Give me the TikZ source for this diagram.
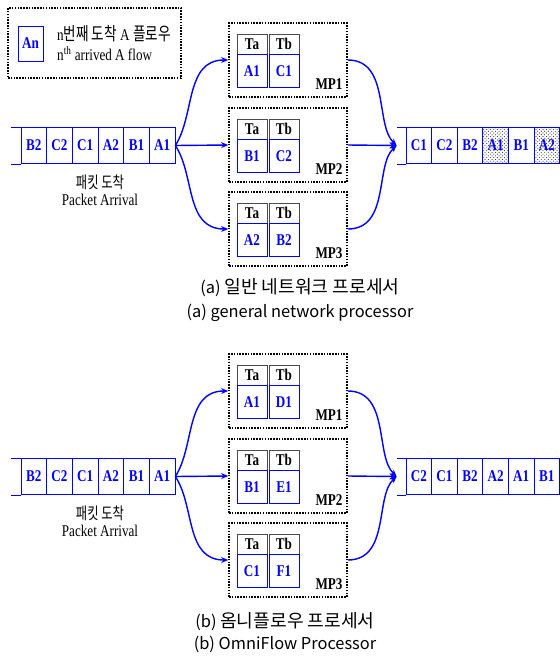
\documentclass[tikz,border=0pt]{standalone}
\usepackage{fontspec}
\setmainfont{Liberation Serif}
\newfontfamily\narrowserif[FakeStretch=0.8]{Liberation Serif}
\newfontfamily\narrowkr[FakeStretch=0.75]{Noto Sans CJK KR}
\newfontfamily\capkr{Noto Sans CJK KR}
\usetikzlibrary{positioning, arrows.meta, patterns}

\tikzset{
    qcell/.style={draw=blue, line width=0.6pt, minimum width=25.6*0.3mm, minimum height=36*0.3mm,
        inner sep=0pt, text=blue, font=\narrowserif\fontsize{14}{14}\selectfont\bfseries},
    hcell/.style={qcell, pattern=crosshatch dots, pattern color=black!80},
    thead/.style={draw=black!70, line width=0.6pt, minimum width=30*0.3mm, minimum height=20*0.3mm,
        inner sep=0pt, text=black, font=\narrowserif\fontsize{14}{14}\selectfont\bfseries},
    tdata/.style={thead, draw=blue, text=blue, minimum height=33*0.3mm},
    mpbox/.style={draw, line width=1.3pt, dash pattern=on 1.3pt off 1.1pt,
        minimum width=118*0.3mm, minimum height=74*0.3mm},
    mplabel/.style={inner sep=0pt, font=\narrowserif\fontsize{14}{14}\selectfont\bfseries},
    flow/.style={blue, line width=1.2pt, -{Stealth[length=6pt, width=5pt]}},
    stub/.style={blue, line width=0.6pt},
    capline/.style={font=\capkr\fontsize{14}{14}\selectfont}
}
\newcommand{\bigkr}[1]{{\fontsize{15.5}{15.5}\selectfont #1}}

\begin{document}
\begin{tikzpicture}[x=0.3mm, y=0.3mm]
    \useasboundingbox (0,0) rectangle (559,-662);

    % legend
    \node[mpbox, minimum width=173*0.3mm, minimum height=70*0.3mm] (legend) at (94.5,-43) {};
    \node[qcell, minimum width=25*0.3mm, minimum height=35*0.3mm] (an) at (30.5,-43.5) {An};
    \node[anchor=west, align=left, inner sep=0pt, font=\narrowserif\fontsize{14}{17}\selectfont] (legtext) at (57,-43)
        {n{\narrowkr\fontsize{15.5}{17}\selectfont 번째 도착} A {\narrowkr\fontsize{15.5}{17}\selectfont 플로우}\\n\textsuperscript{th} arrived A flow};

    % ---------------- (a) general network processor ----------------
    \foreach \lab [count=\i] in {B2,C2,C1,A2,B1,A1}
        \node[qcell] (ina-\i) at ({21+25.67*(\i-0.5)},-145.5) {\lab};
    \draw[stub] (ina-1.north west) -- ++(-10,0);
    \draw[stub] (ina-1.south west) -- ++(-10,0);
    \node[font=\narrowkr\fontsize{14}{14}\selectfont] (arra) at (100,-182) {패킷 도착};
    \node[font=\narrowserif\fontsize{14}{14}\selectfont] (arra-en) at (100,-200) {Packet Arrival};

    \foreach \n/\y/\ta/\tb in {1/60/A1/C1, 2/145/B1/C2, 3/229/A2/B2} {
        \node[mpbox] (mpa\n) at (288,-\y) {};
        \node[thead] (mpa\n-ha) at (252,-\y+16) {Ta};
        \node[thead] (mpa\n-hb) at (284,-\y+16) {Tb};
        \node[tdata, below=0pt of mpa\n-ha] (mpa\n-da) {\ta};
        \node[tdata, below=0pt of mpa\n-hb] (mpa\n-db) {\tb};
        \node[mplabel, above left=8*0.3mm and 5*0.3mm of mpa\n.south east, anchor=south east] {MP\n};
    }

    \foreach \lab/\sty [count=\i] in {C1/qcell, C2/qcell, B2/qcell, A1/hcell, B1/qcell, A2/hcell}
        \node[\sty] (outa-\i) at ({406+25.6*(\i-0.5)},-145.5) {\lab};
    \draw[stub] (outa-1.north west) -- ++(-9,0);
    \draw[stub] (outa-1.south west) -- ++(-9,0);
    \coordinate[left=2.7mm of outa-1.west] (outa-in);

    \draw[flow] (ina-6.east) .. controls (195,-115) and (185,-60) .. (mpa1.west);
    \draw[flow] (ina-6.east) -- (mpa2.west);
    \draw[flow] (ina-6.east) .. controls (195,-175) and (185,-229) .. (mpa3.west);
    \draw[flow] (mpa1.east) .. controls (390,-60) and (375,-125) .. (outa-in);
    \draw[flow] (mpa2.east) -- (outa-in);
    \draw[flow] (mpa3.east) .. controls (390,-229) and (375,-165) .. (outa-in);

    \node[capline] (capa) at (300,-288) {(a) \bigkr{일반 네트워크 프로세서}};
    \node[capline] (capa-en) at (300,-313) {(a) general network processor};

    % ---------------- (b) OmniFlow processor ----------------
    \foreach \lab [count=\i] in {B2,C2,C1,A2,B1,A1}
        \node[qcell] (inb-\i) at ({21+25.67*(\i-0.5)},-476.5) {\lab};
    \draw[stub] (inb-1.north west) -- ++(-10,0);
    \draw[stub] (inb-1.south west) -- ++(-10,0);
    \node[font=\narrowkr\fontsize{14}{14}\selectfont] (arrb) at (100,-513) {패킷 도착};
    \node[font=\narrowserif\fontsize{14}{14}\selectfont] (arrb-en) at (100,-531) {Packet Arrival};

    \foreach \n/\y/\ta/\tb in {1/391/A1/D1, 2/476/B1/E1, 3/560/C1/F1} {
        \node[mpbox] (mpb\n) at (288,-\y) {};
        \node[thead] (mpb\n-ha) at (252,-\y+16) {Ta};
        \node[thead] (mpb\n-hb) at (284,-\y+16) {Tb};
        \node[tdata, below=0pt of mpb\n-ha] (mpb\n-da) {\ta};
        \node[tdata, below=0pt of mpb\n-hb] (mpb\n-db) {\tb};
        \node[mplabel, above left=8*0.3mm and 5*0.3mm of mpb\n.south east, anchor=south east] {MP\n};
    }

    \foreach \lab [count=\i] in {C2,C1,B2,A2,A1,B1}
        \node[qcell] (outb-\i) at ({406+25.6*(\i-0.5)},-476.5) {\lab};
    \draw[stub] (outb-1.north west) -- ++(-9,0);
    \draw[stub] (outb-1.south west) -- ++(-9,0);
    \coordinate[left=2.7mm of outb-1.west] (outb-in);

    \draw[flow] (inb-6.east) .. controls (195,-446) and (185,-391) .. (mpb1.west);
    \draw[flow] (inb-6.east) -- (mpb2.west);
    \draw[flow] (inb-6.east) .. controls (195,-506) and (185,-560) .. (mpb3.west);
    \draw[flow] (mpb1.east) .. controls (390,-391) and (375,-456) .. (outb-in);
    \draw[flow] (mpb2.east) -- (outb-in);
    \draw[flow] (mpb3.east) .. controls (390,-560) and (375,-496) .. (outb-in);

    \node[capline] (capb) at (285,-622) {(b) \bigkr{옴니플로우 프로세서}};
    \node[capline] (capb-en) at (285,-644) {(b) OmniFlow Processor};
\end{tikzpicture}
\end{document}
